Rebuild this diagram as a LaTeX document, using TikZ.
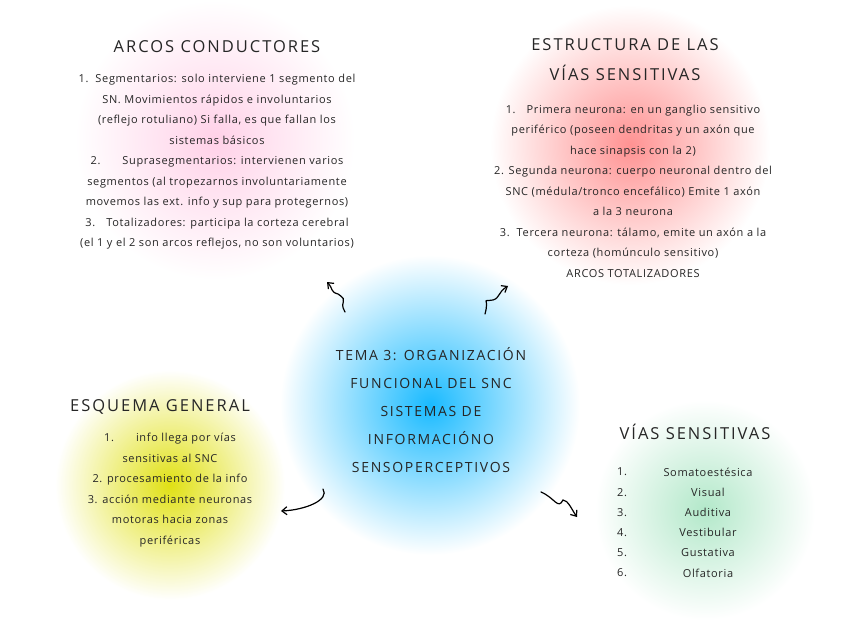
\documentclass[tikz,border=0pt]{standalone}
\usepackage{fontspec}
\setmainfont{Open Sans}
\usetikzlibrary{arrows.meta}
\begin{document}
\begin{tikzpicture}[x=1pt,y=-1pt,
  body/.style={align=center,font=\fontsize{11}{20.5}\selectfont\addfontfeatures{LetterSpace=6},text=black!85},
  li/.style={font=\fontsize{11}{12}\selectfont\addfontfeatures{LetterSpace=6},text=black!85},
  ttl/.style={font=\fontsize{16.5}{30}\selectfont\addfontfeatures{LetterSpace=12},text=black!85,align=center},
  squig/.style={line width=1.2pt,-{Straight Barb[length=5pt,width=8pt]},line cap=round}]
\useasboundingbox (0,0) rectangle (848,636);
\fill[white] (0,0) rectangle (848,636);
\shade[inner color=pink!80!magenta!45,outer color=white] (215,140) circle (140);
\shade[inner color=red!30!pink!90,outer color=white] (630,145) circle (140);
\shade[inner color=cyan!70!blue!90,outer color=white] (430,405) circle (150);
\shade[inner color=yellow!70!olive!80,outer color=white] (170,485) circle (115);
\shade[inner color=green!40!teal!30,outer color=white] (705,510) circle (110);

\node[ttl] (t1) at (217,47) {ARCOS CONDUCTORES};
\node[body] (b1) at (217,162) {1.\ \ Segmentarios: solo interviene 1 segmento del\\
SN. Movimientos rápidos e involuntarios\\
(reflejo rotuliano) Si falla, es que fallan los\\
sistemas básicos\\
2.\qquad Suprasegmentarios: intervienen varios\\
segmentos (al tropezarnos involuntariamente\\
movemos las ext. info y sup para protegernos)\\
3.\quad Totalizadores: participa la corteza cerebral\\
(el 1 y el 2 son arcos reflejos, no son voluntarios)};

\node[ttl] (t2) at (625,60) {ESTRUCTURA DE LAS\\VÍAS SENSITIVAS};
\node[body] (b2) at (633,191) {1.\quad Primera neurona: en un ganglio sensitivo\\
periférico (poseen dendritas y un axón que\\
hace sinapsis con la 2)\\
2. Segunda neurona: cuerpo neuronal dentro del\\
SNC (médula/tronco encefálico) Emite 1 axón\\
a la 3 neurona\\
3.\ \ Tercera neurona: tálamo, emite un axón a la\\
corteza (homúnculo sensitivo)\\
ARCOS TOTALIZADORES};

\node[ttl,font=\fontsize{14}{28}\selectfont\addfontfeatures{LetterSpace=12}] (c) at (431,410) {TEMA 3: ORGANIZACIÓN\\FUNCIONAL DEL SNC\\SISTEMAS DE\\INFORMACIÓNO\\SENSOPERCEPTIVOS};

\node[ttl] (t3) at (160,407) {ESQUEMA GENERAL};
\node[body] (b3) at (170,490) {1.\qquad info llega por vías\\
sensitivas al SNC\\
2. procesamiento de la info\\
3. acción mediante neuronas\\
motoras hacia zonas\\
periféricas};

\node[ttl] (t4) at (695,432) {VÍAS SENSITIVAS};
\foreach \n/\t [count=\i] in {1/Somatoestésica,2/Visual,3/Auditiva,4/Vestibular,5/Gustativa,6/Olfatoria}{
  \node[li] (n\i) at (622,472+20.2*\i-20.2) {\n.};
  \node[li] (v\i) at (708,472+20.2*\i-20.2) {\t};
}

\coordinate (a1s) at (345,312);
\coordinate (a1e) at (327,282);
\draw[squig] (a1s) .. controls (338,300) and (350,302) .. (338,294) .. controls (330,292) and (333,288) .. (a1e);
\coordinate (a2s) at (485,314);
\coordinate (a2e) at (508,286);
\draw[squig] (a2s) .. controls (490,296) and (480,302) .. (493,300) .. controls (500,298) and (498,292) .. (a2e);
\coordinate (a3s) at (323,489);
\coordinate (a3e) at (281,511);
\draw[squig] (a3s) .. controls (330,500) and (305,510) .. (a3e);
\coordinate (a4s) at (541,492);
\coordinate (a4e) at (577,517);
\draw[squig] (a4s) .. controls (555,498) and (558,510) .. (563,500) .. controls (568,500) and (572,510) .. (a4e);
\end{tikzpicture}
\end{document}
